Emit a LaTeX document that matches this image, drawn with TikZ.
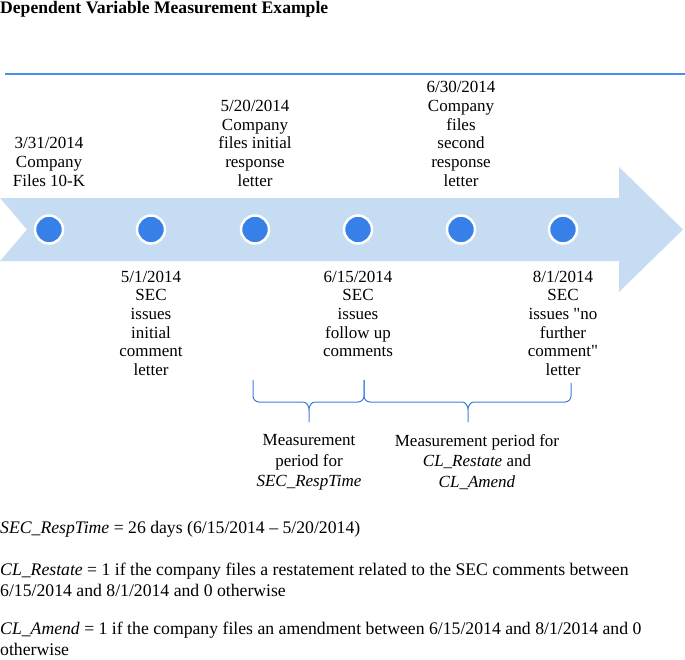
\documentclass[tikz,border=0pt]{standalone}
\usepackage{fontspec}
\setmainfont{Liberation Serif}
\usetikzlibrary{positioning}
\definecolor{arrowfill}{RGB}{197,220,242}
\definecolor{dotblue}{RGB}{55,128,232}
\definecolor{lineblue}{RGB}{70,145,235}
\definecolor{braceblue}{RGB}{65,125,220}
\tikzset{
  dot/.style={circle,fill=dotblue,draw=white,line width=2.5pt,minimum size=28pt,inner sep=0,outer sep=0},
  datelabel/.style={align=center,inner sep=0,font=\fontsize{17}{18.7}\selectfont},
  periodlabel/.style={align=center,inner sep=0,font=\fontsize{17}{20.8}\selectfont},
  deflabel/.style={align=left,inner sep=0,anchor=base west,font=\fontsize{17.7}{21.5}\selectfont},
  brace/.style={draw=braceblue,line width=1pt}
}
\begin{document}
\begin{tikzpicture}[x=1pt,y=-1pt]
  \useasboundingbox (0,0) rectangle (685,659);
  % title
  \node[anchor=base west,inner sep=0,font=\fontsize{17.6}{20}\selectfont\bfseries] (title) at (0,13.5)
    {Dependent Variable Measurement Example};
  \coordinate (lineL) at (5,74);
  \coordinate (lineR) at (685,74);
  \draw[lineblue,line width=1.5pt] (lineL) -- (lineR);
  % timeline arrow
  \fill[arrowfill] (0,198) -- (619,198) -- (619,167) -- (683,229.5) -- (619,292)
    -- (619,261) -- (0,261) -- (27,229.5) -- cycle;
  \foreach \i/\x in {1/49,2/151,3/255,4/358,5/461,6/563}
    \node[dot] (c\i) at (\x,229.5) {};
  % events above
  \node[datelabel,anchor=south,above=29pt of c1] (e1) {3/31/2014\\Company\\Files 10-K};
  \node[datelabel,anchor=south,above=29pt of c3] (e3) {5/20/2014\\Company\\files initial\\response\\letter};
  \node[datelabel,anchor=south,above=29pt of c5] (e5) {6/30/2014\\Company\\files\\second\\response\\letter};
  % events below
  \node[datelabel,anchor=north,below=27pt of c2] (e2) {5/1/2014\\SEC\\issues\\initial\\comment\\letter};
  \node[datelabel,anchor=north,below=27pt of c4] (e4) {6/15/2014\\SEC\\issues\\follow up\\comments};
  \node[datelabel,anchor=north,below=27pt of c6] (e6) {8/1/2014\\SEC\\issues \textquotedbl no\\further\\comment\textquotedbl\\letter};
  % braces
  \draw[brace] (253,380) -- (253,396) to[out=-90,in=180] (259,402) -- (303,402)
    to[out=0,in=90] (309,410) -- (309,422) -- (309,410) to[out=90,in=180] (315,402)
    -- (358,402) to[out=0,in=-90] (364,396) -- (364,380);
  \draw[brace] (364,380) -- (364,396) to[out=-90,in=180] (370,402) -- (462,402)
    to[out=0,in=90] (468,410) -- (468,422) -- (468,410) to[out=90,in=180] (474,402)
    -- (565,402) to[out=0,in=-90] (571,396) -- (571,383);
  \node[periodlabel,anchor=north] (p1) at (309,434) {Measurement\\period for\\\textit{SEC\_RespTime}};
  \node[periodlabel,anchor=north] (p2) at (477,434) {Measurement period for\\\textit{CL\_Restate} and\\\textit{CL\_Amend}};
  % definitions
  \node[deflabel] (d1) at (0,533) {\textit{SEC\_RespTime} = 26 days (6/15/2014 -- 5/20/2014)};
  \node[deflabel] (d2) at (0,596.5) {\textit{CL\_Restate} = 1 if the company files a restatement related to the SEC comments between\\6/15/2014 and 8/1/2014 and 0 otherwise};
  \node[deflabel] (d3) at (0,655.5) {\textit{CL\_Amend} = 1 if the company files an amendment between 6/15/2014 and 8/1/2014 and 0\\otherwise};
\end{tikzpicture}
\end{document}
